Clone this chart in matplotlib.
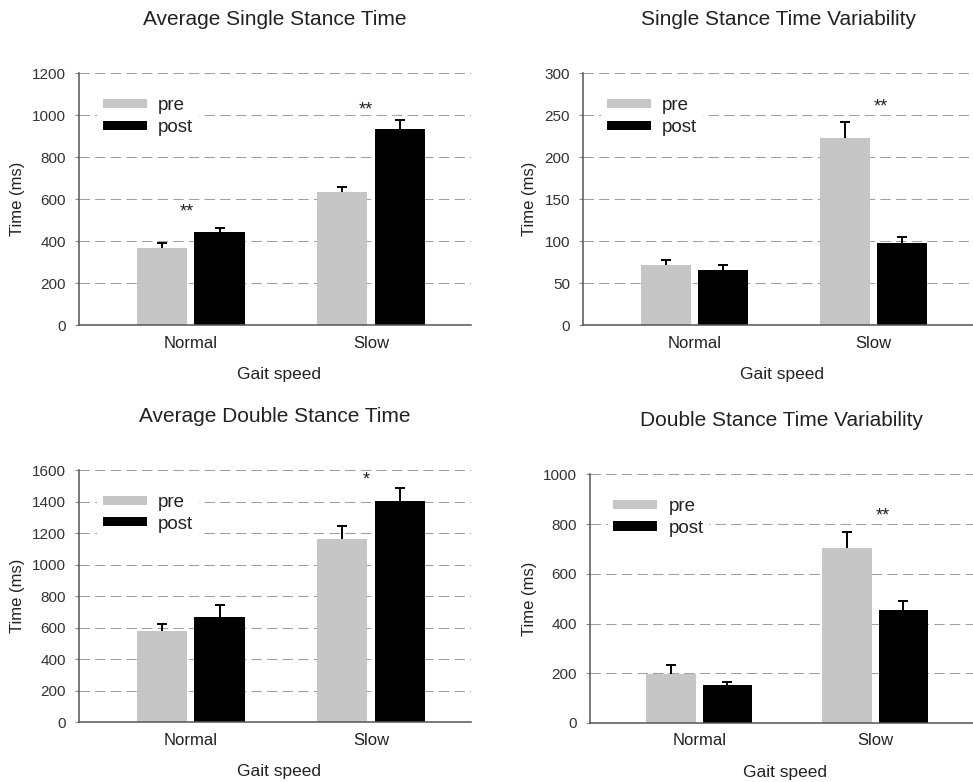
import matplotlib
matplotlib.use('Agg')
import matplotlib.pyplot as plt
import numpy as np

plt.rcParams['font.family'] = ['Liberation Sans', 'DejaVu Sans']

categories = ['Normal', 'Slow']
series = ['pre', 'post']

# mean values and upper error (SE)
single_mean_pre = [369, 633]
single_mean_post = [446, 933]
single_mean_pre_err = [21, 26]
single_mean_post_err = [16, 45]

single_var_pre = [71.4, 223.3]
single_var_post = [66.2, 98]
single_var_pre_err = [6.6, 19.1]
single_var_post_err = [5.6, 7.5]

double_mean_pre = [579, 1160]
double_mean_post = [670, 1403]
double_mean_pre_err = [46, 85]
double_mean_post_err = [74, 81]

double_var_pre = [198, 704]
double_var_post = [154, 454]
double_var_pre_err = [34, 64]
double_var_post_err = [10, 38]

# significance marks: (x in category units, y value, text)
single_mean_sig = [(-0.02, 553, '**'), (0.97, 1035, '**')]
single_var_sig = [(1.04, 263, '**')]
double_mean_sig = [(0.975, 1555, '*')]
double_var_sig = [(1.04, 842, '**')]

colors = ['#c6c6c6', '#000000']
spine_col = '#555555'
text_col = '#222222'


def draw_panel(ax, title, pre, post, pre_err, post_err, ymax, ystep, sig):
    x = np.arange(len(categories))
    w = 0.28
    off = 0.16
    for i, (vals, errs) in enumerate([(pre, pre_err), (post, post_err)]):
        pos = x - off if i == 0 else x + off
        vals = np.array(vals)
        errs = np.array(errs)
        ax.bar(pos, vals, width=w, color=colors[i], label=series[i], zorder=2)
        # upper error only, cap on top
        ax.errorbar(pos, vals, yerr=[np.zeros(len(errs)), errs], fmt='none',
                    ecolor='black', elinewidth=1.4, capsize=0, zorder=3)
        ax.plot(pos, vals + errs, ls='none', marker='_', markersize=6.5,
                markeredgewidth=1.4, color='black', zorder=3)
    for sx, yv, txt in sig:
        ax.annotate(txt, (sx, yv), xytext=(0, -5), textcoords='offset points',
                    ha='center', va='baseline', fontsize=13, color=text_col)

    ax.set_xlim(-0.62, 1.555)
    ax.set_ylim(0, ymax)
    ax.set_yticks(np.arange(0, ymax + 1, ystep))
    ax.set_xticks(x)
    ax.set_xticklabels(categories, fontsize=12, color=text_col)
    ax.tick_params(axis='x', length=0, pad=7.5)
    ax.tick_params(axis='y', length=3, width=0.8, color='#888888', pad=6.5,
                   labelsize=11, labelcolor='#333333')
    ax.yaxis.grid(True, color='#a0a0a0', linewidth=0.75, linestyle=(0, (10, 5)))
    ax.set_axisbelow(True)
    for s in ['top', 'right']:
        ax.spines[s].set_visible(False)
    for s in ['left', 'bottom']:
        ax.spines[s].set_color(spine_col)
        ax.spines[s].set_linewidth(1.1)

    ax.set_title(title, fontsize=15, pad=34.5, color=text_col)
    ax.set_ylabel('Time (ms)', fontsize=12, color=text_col)
    ax.set_xlabel('Gait speed', fontsize=12.5, color=text_col)
    ax.xaxis.set_label_coords(0.51, -0.167)

    leg = ax.legend(loc='upper left', bbox_to_anchor=(0.022, 0.965), fontsize=13.5,
                    handlelength=2.35, handleheight=0.37, handletextpad=0.6,
                    labelspacing=0.25, borderpad=0.3, frameon=True, framealpha=1,
                    facecolor='white', edgecolor='none', fancybox=False)
    for t in leg.get_texts():
        t.set_color(text_col)
    return ax


fig = plt.figure(figsize=(9.73, 7.82), dpi=100)
W, H = 973, 782


def add_axes(left, top, right, bottom):
    return fig.add_axes([left / W, 1 - bottom / H, (right - left) / W, (bottom - top) / H])


ax1 = add_axes(79, 73.3, 471, 325.3)
ax2 = add_axes(583.3, 73.3, 973, 325.3)
ax3 = add_axes(79, 470, 471, 722.3)
ax4 = add_axes(590, 474.3, 973, 723)

draw_panel(ax1, 'Average Single Stance Time', single_mean_pre, single_mean_post,
           single_mean_pre_err, single_mean_post_err, 1200, 200, single_mean_sig)
draw_panel(ax2, 'Single Stance Time Variability', single_var_pre, single_var_post,
           single_var_pre_err, single_var_post_err, 300, 50, single_var_sig)
draw_panel(ax3, 'Average Double Stance Time', double_mean_pre, double_mean_post,
           double_mean_pre_err, double_mean_post_err, 1600, 200, double_mean_sig)
draw_panel(ax4, 'Double Stance Time Variability', double_var_pre, double_var_post,
           double_var_pre_err, double_var_post_err, 1000, 200, double_var_sig)

# y label positions (right edge of rotated text)
ax1.yaxis.set_label_coords(-0.138, 0.5)
ax2.yaxis.set_label_coords(-0.119, 0.5)
ax3.yaxis.set_label_coords(-0.138, 0.5)
ax4.yaxis.set_label_coords(-0.138, 0.5)

fig.savefig('out.png', dpi=100)
plt.close(fig)
